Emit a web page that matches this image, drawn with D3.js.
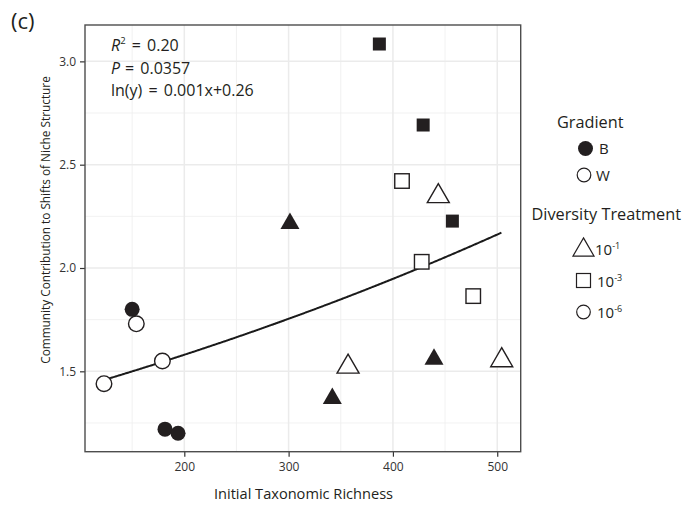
<!DOCTYPE html>
<html><head><meta charset="utf-8">
<script src="https://cdn.jsdelivr.net/npm/d3@7"></script>
<style>body{margin:0;background:#fff}svg{display:block;font-family:"Open Sans",sans-serif}</style>
</head><body><svg id="c" width="684" height="505"></svg>
<script>
const gradient  = ["B","W","W","W","B","B","B","B","B","W","W","W","B","B","B","W","W","W"];
const treatment = ["1e-6","1e-6","1e-6","1e-6","1e-6","1e-6","1e-1","1e-1","1e-1","1e-1","1e-1","1e-1","1e-3","1e-3","1e-3","1e-3","1e-3","1e-3"];
const richness  = [150,154,179,123,181.5,194,301.3,341.9,439.4,443.5,357,504.3,387,429,457,408.7,427.6,477];
const contribution = [1.80,1.73,1.55,1.44,1.22,1.20,2.215,1.368,1.558,2.347,1.522,1.553,3.084,2.692,2.227,2.421,2.03,1.864];
const xTicks = [200,300,400,500];
const yTicks = [1.5,2.0,2.5,3.0];
const xMinor = [150,250,350,450];
const yMinor = [1.25,1.75,2.25,2.75];
const fitA = 0.2485, fitB = 0.001045; // ln(y) = a + b x
const legendTreat = [["1e-1","10","-1"],["1e-3","10","-3"],["1e-6","10","-6"]];

const svg = d3.select("#c");
const L=85,T=25,R=520.7,B=451.7;
const x = d3.scaleLinear().domain([104.8,522.5]).range([L,R]);
const y = d3.scaleLinear().domain([1.111,3.176]).range([B,T]);

const g = svg.append("g");
// grid
g.selectAll(".xm").data(xMinor).join("line").attr("x1",d=>x(d)).attr("x2",d=>x(d)).attr("y1",T).attr("y2",B).attr("stroke","#ededed").attr("stroke-width",0.8);
g.selectAll(".ym").data(yMinor).join("line").attr("y1",d=>y(d)).attr("y2",d=>y(d)).attr("x1",L).attr("x2",R).attr("stroke","#ededed").attr("stroke-width",0.8);
g.selectAll(".xM").data(xTicks).join("line").attr("x1",d=>x(d)).attr("x2",d=>x(d)).attr("y1",T).attr("y2",B).attr("stroke","#ebebeb").attr("stroke-width",1.5);
g.selectAll(".yM").data(yTicks).join("line").attr("y1",d=>y(d)).attr("y2",d=>y(d)).attr("x1",L).attr("x2",R).attr("stroke","#ebebeb").attr("stroke-width",1.5);

// axes
const xa = svg.append("g").attr("transform",`translate(0,${B})`).call(d3.axisBottom(x).tickValues(xTicks).tickFormat(d3.format("d")).tickSize(5).tickPadding(6));
const ya = svg.append("g").attr("transform",`translate(${L},0)`).call(d3.axisLeft(y).tickValues(yTicks).tickFormat(d3.format(".1f")).tickSize(5).tickPadding(4));
[xa,ya].forEach(a=>{a.select(".domain").remove();a.selectAll(".tick line").attr("stroke","#333").attr("stroke-width",1.2);a.selectAll(".tick text").attr("fill","#333").style("font-size","12px").style("font-family","Open Sans");});

// fit curve
const xs = d3.range(123,504.5,1);
svg.append("path").datum(xs).attr("fill","none").attr("stroke","#1a1a1a").attr("stroke-width",2)
  .attr("d",d3.line().x(d=>x(d)).y(d=>y(Math.exp(fitA+fitB*d))));

// points
const pts = richness.map((r,i)=>({r,c:contribution[i],g:gradient[i],t:treatment[i]}));
const fillOf = d=>d.g==="B"?"#231f20":"#fff";
pts.forEach(d=>{
  const px=x(d.r), py=y(d.c), filled=d.g==="B";
  if(d.t==="1e-6"){
    svg.append("circle").attr("cx",px).attr("cy",py).attr("r",filled?7.5:7.8).attr("fill",fillOf(d)).attr("stroke","#231f20").attr("stroke-width",filled?0:1.4);
  } else if(d.t==="1e-3"){
    const s = filled?13:14.5;
    svg.append("rect").attr("x",px-s/2).attr("y",py-s/2).attr("width",s).attr("height",s).attr("fill",fillOf(d)).attr("stroke","#231f20").attr("stroke-width",filled?0:1.4);
  } else {
    const w = filled?19:22;
    svg.append("path").attr("transform",`translate(${px},${py})`).attr("d",d3.symbol(d3.symbolTriangle, Math.sqrt(3)/4*w*w)()).attr("fill",fillOf(d)).attr("stroke","#231f20").attr("stroke-width",filled?0:1.4);
  }
});

// border
svg.append("rect").attr("x",L).attr("y",T).attr("width",R-L).attr("height",B-T).attr("fill","none").attr("stroke","#4d4d4d").attr("stroke-width",1.4);

// titles
svg.append("text").attr("x",303.5).attr("y",499).attr("text-anchor","middle").attr("fill","#231f20").style("font-size","14.6px").text("Initial Taxonomic Richness");
svg.append("text").attr("transform","translate(50,220) rotate(-90)").attr("text-anchor","middle").attr("fill","#231f20").style("font-size","11.8px").text("Community Contribution to Shifts of Niche Structure");
svg.append("text").attr("x",11).attr("y",29).attr("fill","#231f20").style("font-size","22px").text("(c)");

// annotations
const ann = svg.append("g").attr("fill","#231f20").style("font-size","16px").style("word-spacing","2px");
const t1 = ann.append("text").attr("x",111).attr("y",51);
t1.append("tspan").style("font-style","italic").text("R");
t1.append("tspan").attr("dy",-7).style("font-size","9.5px").text("2");
t1.append("tspan").attr("dy",7).text(" = 0.20");
const t2 = ann.append("text").attr("x",111).attr("y",73.5);
t2.append("tspan").style("font-style","italic").text("P");
t2.append("tspan").attr("x",125).text("= 0.0357");
ann.append("text").attr("x",111).attr("y",96).text("ln(y) = 0.001x+0.26");

// legend
const lg = svg.append("g").attr("fill","#231f20");
lg.append("text").attr("x",557).attr("y",128).style("font-size","16.3px").text("Gradient");
lg.append("circle").attr("cx",585.5).attr("cy",148.5).attr("r",7.5).attr("fill","#231f20");
lg.append("text").attr("x",599).attr("y",154).style("font-size","15px").text("B");
lg.append("circle").attr("cx",584).attr("cy",175).attr("r",6.8).attr("fill","#fff").attr("stroke","#231f20").attr("stroke-width",1.2);
lg.append("text").attr("x",596).attr("y",181).style("font-size","15px").text("W");
lg.append("text").attr("x",531.5).attr("y",220).style("font-size","16.3px").text("Diversity Treatment");
legendTreat.forEach((d,i)=>{
  const cy = 249 + i*31.5, cx = 583.5;
  if(d[0]==="1e-1"){
    lg.append("path").attr("transform",`translate(${cx},${cy+1})`).attr("d",d3.symbol(d3.symbolTriangle, Math.sqrt(3)/4*21*21)()).attr("fill","#fff").attr("stroke","#231f20").attr("stroke-width",1.2);
  } else if(d[0]==="1e-3"){
    lg.append("rect").attr("x",cx-7).attr("y",cy-7).attr("width",14).attr("height",14).attr("fill","#fff").attr("stroke","#231f20").attr("stroke-width",1.2);
  } else {
    lg.append("circle").attr("cx",cx).attr("cy",cy).attr("r",6.8).attr("fill","#fff").attr("stroke","#231f20").attr("stroke-width",1.2);
  }
  const tx = lg.append("text").attr("x",i===0?595:597).attr("y",cy+6).style("font-size","15px");
  tx.append("tspan").text(d[1]);
  tx.append("tspan").attr("dy",-6).style("font-size","9px").text(d[2]);
});
</script></body></html>
